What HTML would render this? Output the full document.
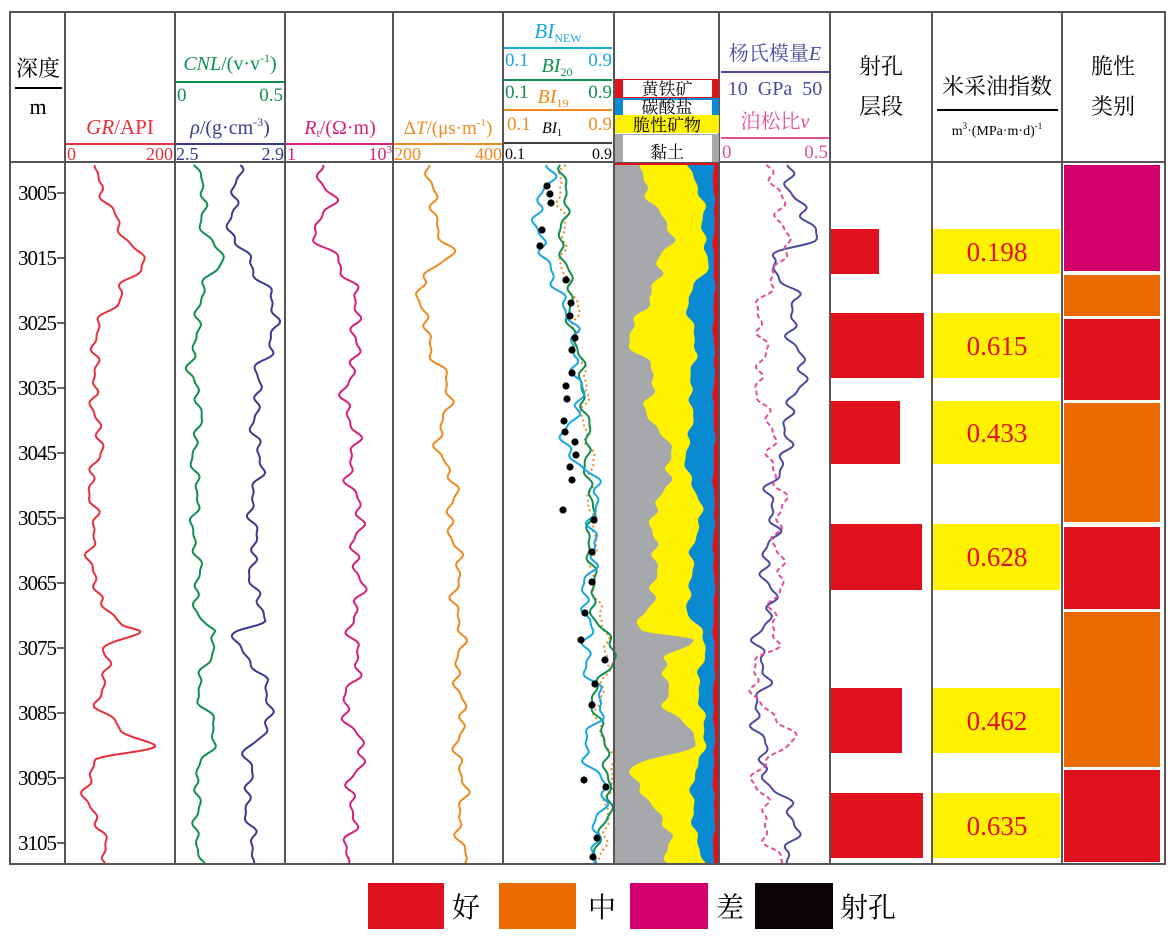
<!DOCTYPE html>
<html><head><meta charset="utf-8"><style>
body{margin:0;background:#fff}
svg{display:block}
text{font-family:"Liberation Serif","Noto Serif CJK SC",serif}
</style></head><body>
<svg id="s" width="1173" height="945" viewBox="0 0 1173 945" xmlns="http://www.w3.org/2000/svg">
<rect width="1173" height="945" fill="#fff"/>
<g id="min"></g>
<g fill="#e0101c">
<rect x="831" y="229" width="48" height="45"/>
<rect x="831" y="313" width="93" height="65"/>
<rect x="831" y="401" width="69" height="63"/>
<rect x="831" y="524" width="91" height="66"/>
<rect x="831" y="688" width="71" height="65"/>
<rect x="831" y="793" width="92" height="65"/>
</g>
<g fill="#fff200">
<rect x="933" y="229" width="127" height="45"/>
<rect x="933" y="313" width="127" height="65"/>
<rect x="933" y="401" width="127" height="63"/>
<rect x="933" y="524" width="127" height="66"/>
<rect x="933" y="688" width="127" height="65"/>
<rect x="933" y="793" width="127" height="65"/>
</g>
<g fill="#e0101c" font-size="27" text-anchor="middle">
<text x="997" y="261">0.198</text><text x="997" y="355">0.615</text><text x="997" y="442">0.433</text>
<text x="997" y="566">0.628</text><text x="997" y="730">0.462</text><text x="997" y="835">0.635</text>
</g>
<g>
<rect x="1064" y="165" width="96" height="106" fill="#d4006e"/>
<rect x="1064" y="275" width="96" height="41" fill="#ea6a00"/>
<rect x="1064" y="319" width="96" height="81" fill="#e0101c"/>
<rect x="1064" y="403" width="96" height="119" fill="#ea6a00"/>
<rect x="1064" y="527" width="96" height="82" fill="#e0101c"/>
<rect x="1064" y="612" width="96" height="155" fill="#ea6a00"/>
<rect x="1064" y="770" width="96" height="92" fill="#e0101c"/>
</g>
<g id="curves" fill="none" stroke-width="2"></g>
<g stroke="#555" stroke-width="2" fill="none">
<rect x="10" y="12" width="1155" height="852"/>
<line x1="10" y1="162" x2="1165" y2="162"/>
<line x1="65" y1="12" x2="65" y2="864"/><line x1="175" y1="12" x2="175" y2="864"/>
<line x1="285" y1="12" x2="285" y2="864"/><line x1="393" y1="12" x2="393" y2="864"/>
<line x1="503" y1="12" x2="503" y2="864"/><line x1="614" y1="12" x2="614" y2="864"/>
<line x1="719" y1="12" x2="719" y2="864"/><line x1="830" y1="12" x2="830" y2="864"/>
<line x1="932" y1="12" x2="932" y2="864"/><line x1="1062" y1="12" x2="1062" y2="864"/>
</g>
<g id="ticks" stroke="#333" stroke-width="1.5"></g>
<g font-size="21" fill="#000" text-anchor="end" id="dl" letter-spacing="-1"></g>
<g font-size="21">
<text x="38" y="76" text-anchor="middle" font-size="22">深度</text>
<line x1="15" y1="88" x2="62" y2="88" stroke="#000" stroke-width="2"/>
<text x="38" y="114" text-anchor="middle" font-size="22">m</text>
<text x="120" y="134" text-anchor="middle" fill="#e8303c"><tspan font-style="italic">GR</tspan>/API</text>
<line x1="66" y1="144" x2="174" y2="144" stroke="#e8303c" stroke-width="2"/>
<text x="67" y="160" fill="#e8303c" font-size="18">0</text><text x="173" y="160" fill="#e8303c" font-size="18" text-anchor="end">200</text>
<text x="230" y="70" text-anchor="middle" fill="#109050" font-size="20"><tspan font-style="italic">CNL</tspan>/(v·v<tspan font-size="12" dy="-8">-1</tspan><tspan dy="8">)</tspan></text>
<line x1="176" y1="82" x2="284" y2="82" stroke="#109050" stroke-width="2"/>
<text x="177" y="101" fill="#109050" font-size="19">0</text><text x="283" y="101" fill="#109050" font-size="19" text-anchor="end">0.5</text>
<text x="230" y="134" text-anchor="middle" fill="#3a3a90" font-size="20"><tspan font-style="italic">ρ</tspan>/(g·cm<tspan font-size="12" dy="-8">-3</tspan><tspan dy="8">)</tspan></text>
<line x1="176" y1="144" x2="284" y2="144" stroke="#3a3a90" stroke-width="2"/>
<text x="176" y="160" fill="#3a3a90" font-size="18">2.5</text><text x="284" y="160" fill="#3a3a90" font-size="18" text-anchor="end">2.9</text>
<text x="340" y="134" text-anchor="middle" fill="#d8207a" font-size="20"><tspan font-style="italic">R</tspan><tspan font-size="12" dy="3">t</tspan><tspan dy="-3">/(Ω·m)</tspan></text>
<line x1="286" y1="144" x2="392" y2="144" stroke="#d8207a" stroke-width="2"/>
<text x="287" y="160" fill="#d8207a" font-size="18">1</text><text x="392" y="160" fill="#d8207a" font-size="18" text-anchor="end">10<tspan font-size="11" dy="-7">3</tspan></text>
<text x="448" y="134" text-anchor="middle" fill="#f08a20" font-size="19">Δ<tspan font-style="italic">T</tspan>/(μs·m<tspan font-size="11" dy="-8">-1</tspan><tspan dy="8">)</tspan></text>
<line x1="394" y1="144" x2="502" y2="144" stroke="#f08a20" stroke-width="2"/>
<text x="394" y="160" fill="#f08a20" font-size="18">200</text><text x="502" y="160" fill="#f08a20" font-size="18" text-anchor="end">400</text>
<text x="558" y="38" text-anchor="middle" fill="#18a8e0" font-size="21"><tspan font-style="italic">BI</tspan><tspan font-size="12" dy="4">NEW</tspan></text>
<line x1="504" y1="48" x2="612" y2="48" stroke="#18a8e0" stroke-width="2"/>
<text x="505" y="66" fill="#18a8e0" font-size="19">0.1</text><text x="612" y="66" fill="#18a8e0" font-size="19" text-anchor="end">0.9</text>
<text x="557" y="72" text-anchor="middle" fill="#109050" font-size="20"><tspan font-style="italic">BI</tspan><tspan font-size="12" dy="4">20</tspan></text>
<line x1="504" y1="80" x2="612" y2="80" stroke="#109050" stroke-width="2"/>
<text x="505" y="98" fill="#109050" font-size="19">0.1</text><text x="612" y="98" fill="#109050" font-size="19" text-anchor="end">0.9</text>
<text x="553" y="103" text-anchor="middle" fill="#f08a20" font-size="20"><tspan font-style="italic">BI</tspan><tspan font-size="12" dy="4">19</tspan></text>
<line x1="504" y1="110" x2="612" y2="110" stroke="#f08a20" stroke-width="2"/>
<text x="507" y="130" fill="#f08a20" font-size="19">0.1</text><text x="612" y="130" fill="#f08a20" font-size="19" text-anchor="end">0.9</text>
<text x="552" y="133" text-anchor="middle" fill="#000" font-size="16"><tspan font-style="italic">BI</tspan><tspan font-size="10" dy="3">1</tspan></text>
<line x1="504" y1="143" x2="612" y2="143" stroke="#000" stroke-width="1.5"/>
<text x="505" y="159" font-size="16">0.1</text><text x="612" y="159" font-size="16" text-anchor="end">0.9</text>
<rect x="615" y="79" width="104" height="19" fill="#e0101c"/><rect x="623" y="80" width="89" height="17" fill="#fff"/>
<rect x="615" y="98" width="104" height="17" fill="#0a8ad0"/><rect x="623" y="100" width="89" height="15" fill="#fff"/>
<rect x="615" y="115" width="104" height="18" fill="#fff200"/>
<rect x="615" y="134" width="104" height="28" fill="#a6a8ab"/><rect x="623" y="135" width="89" height="27" fill="#fff"/>
<text x="667" y="95" text-anchor="middle" font-size="17">黄铁矿</text>
<text x="667" y="113" text-anchor="middle" font-size="17">碳酸盐</text>
<text x="667" y="131" text-anchor="middle" font-size="17">脆性矿物</text>
<text x="667" y="158" text-anchor="middle" font-size="17">黏土</text>
<text x="775" y="60" text-anchor="middle" fill="#4a4aa0" font-size="20">杨氏模量<tspan font-style="italic">E</tspan></text>
<line x1="721" y1="72" x2="829" y2="72" stroke="#4a4aa0" stroke-width="2"/>
<text x="775" y="95" text-anchor="middle" fill="#4a4aa0" font-size="20" xml:space="preserve">10  GPa  50</text>
<text x="775" y="128" text-anchor="middle" fill="#e0509a" font-size="20">泊松比<tspan font-style="italic">v</tspan></text>
<line x1="721" y1="138" x2="829" y2="138" stroke="#e0509a" stroke-width="2"/>
<text x="722" y="158" fill="#e0509a" font-size="19">0</text><text x="828" y="158" fill="#e0509a" font-size="19" text-anchor="end">0.5</text>
<text x="881" y="74" text-anchor="middle" font-size="22">射孔</text><text x="881" y="114" text-anchor="middle" font-size="22">层段</text>
<text x="997" y="94" text-anchor="middle" font-size="22">米采油指数</text>
<line x1="937" y1="110" x2="1058" y2="110" stroke="#000" stroke-width="2"/>
<text x="997" y="135" text-anchor="middle" font-size="14">m<tspan font-size="9" dy="-6">3</tspan><tspan dy="6">·(MPa·m·d)</tspan><tspan font-size="9" dy="-6">-1</tspan></text>
<text x="1113" y="74" text-anchor="middle" font-size="22">脆性</text><text x="1113" y="114" text-anchor="middle" font-size="22">类别</text>
</g>
<g font-size="28">
<rect x="368" y="883" width="76" height="46" fill="#e0101c"/><text x="452" y="917">好</text>
<rect x="499" y="883" width="77" height="46" fill="#ea6a00"/><text x="588" y="917">中</text>
<rect x="630" y="883" width="78" height="46" fill="#d4006e"/><text x="716" y="917">差</text>
<rect x="755" y="883" width="78" height="46" fill="#0a0408"/><text x="840" y="917">射孔</text>
</g>
</svg>
<script>
var NS="http://www.w3.org/2000/svg";
function el(p,t,a){var e=document.createElementNS(NS,t);for(var k in a)e.setAttribute(k,a[k]);document.getElementById(p).appendChild(e);return e;}
function interp(k,y){for(var i=0;i<k.length-1;i++){if(y>=k[i][0]&&y<=k[i+1][0]){var t=(y-k[i][0])/(k[i+1][0]-k[i][0]);t=(1-Math.cos(Math.PI*t))/2;return k[i][1]+(k[i+1][1]-k[i][1])*t;}}return y<k[0][0]?k[0][1]:k[k.length-1][1];}
function wig(y,a,s){return a*(Math.sin(y*0.21+s)*0.6+Math.sin(y*0.083+s*2.3)*0.8+Math.sin(y*0.37+s*0.7)*0.35);}
function xs(k,a,s){var r=[];for(var y=165;y<=864;y+=2)r.push([interp(k,y)+wig(y,a,s),y]);return r;}
function pth(pts){return pts.map(function(p,i){return(i?"L":"M")+p[0].toFixed(1)+" "+p[1];}).join("");}
function curve(k,c,a,s,extra){var o={d:pth(xs(k,a,s)),stroke:c};for(var q in extra)o[q]=extra[q];el("curves","path",o);}
for(var d=3005;d<=3105;d+=10){var y=193+(d-3005)*6.5;el("ticks","line",{x1:57,y1:y,x2:65,y2:y});var t=el("dl","text",{x:56,y:y+7});t.textContent=d;}
var gray=[[165,645],[200,650],[240,672],[270,660],[300,645],[340,632],[380,652],[420,650],[440,665],[480,672],[520,648],[560,660],[600,648],[630,640],[640,700],[660,660],[700,668],[740,695],[770,632],[800,650],[840,668],[864,672]];
var yel=[[165,690],[220,705],[260,706],[300,690],[360,694],[420,690],[470,688],[520,702],[560,690],[610,690],[640,703],[700,700],[750,705],[790,690],[864,702]];
var blu=[[165,714],[864,714]];
function band(L,R,c,aL,aR,sL,sR){var a=xs(L,aL,sL),b=xs(R,aR,sR).reverse();el("min","path",{d:pth(a)+pth(b).replace("M","L")+"Z",fill:c});}
el("min","rect",{x:615,y:163,width:104,height:701,fill:"#e0101c"});
band([[165,615],[864,615]],blu,"#0a8ad0",0,1,0,4);
band([[165,615],[864,615]],yel,"#fff200",0,3,0,2);
band([[165,615],[864,615]],gray,"#a6a8ab",0,5,0,1);
curve([[165,100],[200,105],[235,120],[258,150],[290,118],[330,100],[365,92],[420,98],[520,92],[600,95],[625,125],[632,140],[650,105],[700,100],[730,120],[745,150],[760,95],[800,88],[864,110]],"#e8303c",5,1);
curve([[165,198],[230,205],[255,222],[280,205],[368,190],[380,198],[500,195],[600,197],[625,205],[632,212],[700,200],[728,212],[745,214],[780,195],[864,200]],"#109050",4,2);
curve([[165,236],[210,238],[230,224],[260,250],[290,270],[350,274],[375,255],[450,258],[550,252],[620,260],[632,236],[680,262],[730,272],[750,245],[800,250],[864,250]],"#3a3a90",5,3);
curve([[165,322],[200,330],[228,312],[260,340],[320,360],[380,348],[450,352],[550,358],[650,355],[720,348],[760,362],[800,350],[864,350]],"#d8207a",6,4);
curve([[165,425],[230,440],[250,448],[280,423],[340,425],[380,450],[430,440],[500,452],[600,458],[700,460],[864,462]],"#f08a20",5,5);
curve([[165,562],[240,562],[320,575],[400,585],[500,592],[600,595],[650,610],[700,598],[780,612],[864,600]],"#f08a20",4,6,{"stroke-dasharray":"2 3"});
curve([[165,565],[240,563],[320,572],[400,585],[500,590],[600,592],[650,612],[700,595],[780,610],[864,598]],"#109050",4,7);
curve([[165,548],[200,542],[245,538],[300,565],[380,580],[440,568],[500,598],[560,590],[640,585],[660,590],[700,598],[760,588],[800,605],[864,590]],"#18a8e0",6,8);
var dots=[[547,186],[550,194],[551,203],[542,230],[540,246],[566,280],[571,303],[570,316],[575,338],[572,350],[572,373],[566,386],[567,399],[564,421],[565,432],[575,442],[576,455],[570,467],[572,480],[563,510],[594,520],[592,552],[592,582],[585,613],[581,640],[605,660],[595,684],[592,705],[584,780],[606,787],[597,838],[593,857]];
dots.forEach(function(p){el("curves","circle",{cx:p[0],cy:p[1],r:3.6,fill:"#000",stroke:"none"});});
curve([[165,790],[210,800],[240,812],[258,776],[300,790],[360,800],[400,795],[460,780],[520,770],[600,768],[650,762],[700,760],[770,760],[800,790],[864,790]],"#4a4aa0",7,9);
curve([[165,770],[220,780],[240,795],[270,770],[330,760],[400,762],[460,775],[520,780],[600,777],[640,775],[660,755],[700,760],[740,790],[780,755],[820,765],[864,780]],"#e0509a",6,10,{"stroke-dasharray":"5 3"});
</script>
</body></html>
